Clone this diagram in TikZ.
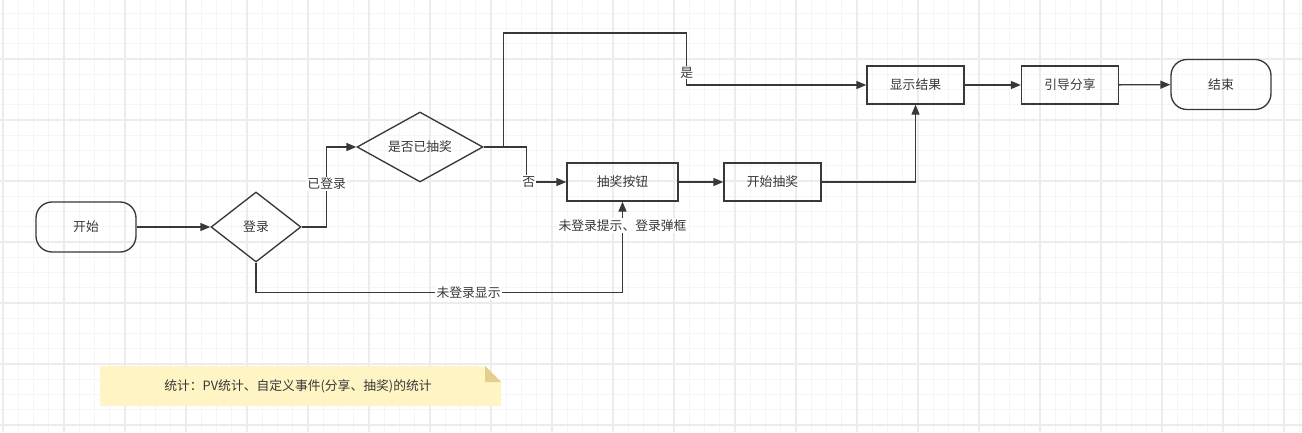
\documentclass[tikz,border=0pt]{standalone}
\usepackage{fontspec}
\setmainfont{Noto Sans CJK SC}
\usetikzlibrary{shapes.geometric,arrows.meta}
\definecolor{linegray}{HTML}{383838}
\definecolor{gridminor}{HTML}{F5F5F5}
\definecolor{gridmajor}{HTML}{ECECEC}
\definecolor{notefill}{HTML}{FFF4C3}
\definecolor{notefold}{HTML}{E3CF8C}

\begin{document}
\begin{tikzpicture}[x=0.75pt,y=-0.75pt,font=\fontsize{9.6}{11.5}\selectfont,text=linegray,
		terminal/.style={draw=linegray,line width=1pt,rounded corners=12pt,minimum width=75pt,minimum height=37.5pt},
		decision/.style={diamond,draw=linegray,line width=1pt,inner sep=0pt,minimum width=#1,minimum height=52.5pt},
		decision/.default=67.5pt,
		box/.style={draw=linegray,line width=1pt,minimum width=#1,minimum height=28.5pt},
		box/.default=72.75pt,
		flow/.style={draw=linegray,line width=1pt,-{Triangle[length=7.5pt,width=6pt]}},
		tag/.style={fill=white,inner sep=1pt}]

	\useasboundingbox (0,0) rectangle (1302,432);
	\fill[white] (0,0) rectangle (1302,432);
	\foreach \gx in {3,18.25,...,1302} \draw[gridminor,line width=0.75pt] (\gx,0) -- (\gx,432);
	\foreach \gy in {13.25,28.5,...,432} \draw[gridminor,line width=0.75pt] (0,\gy) -- (1302,\gy);
	\foreach \gx in {3,64,...,1302} \draw[gridmajor,line width=1pt] (\gx,0) -- (\gx,432);
	\foreach \gy in {59,120,...,432} \draw[gridmajor,line width=1pt] (0,\gy) -- (1302,\gy);

	\node[terminal] (start) at (86,227) {开始};
	\node[decision] (login) at (256,227) {登录};
	\node[decision=94.5pt,shape aspect=1.8] (drawn) at (420,147) {是否已抽奖};
	\node[box=83.25pt] (button) at (622.5,182) {抽奖按钮};
	\node[box] (lottery) at (772.5,182) {开始抽奖};
	\node[box] (result) at (915.5,85) {显示结果};
	\node[box] (share) at (1070,85) {引导分享};
	\node[terminal] (finish) at (1221,84.5) {结束};

	\draw[flow] (start) -- (login);
	\draw[flow] (login.east) -- ++(25,0) |- node[tag,pos=0.27]{已登录} (drawn.west);
	\draw[flow] (login.south) -- ++(0,30) -| node[tag,pos=0.29]{未登录显示} node[tag,pos=0.87]{未登录提示、登录弹框} (button.south);
	\draw[flow] (drawn.east) -- ++(43,0) |- node[tag,pos=0.5,xshift=1.5pt]{否} (button.west);
	\draw[flow] (drawn.east) -- ++(20,0) |- ++(183,-114) |- node[tag,pos=0.38]{是} (result.west);
	\draw[flow] (button) -- (lottery);
	\draw[flow] (lottery.east) -| (result.south);
	\draw[flow] (result) -- (share);
	\draw[flow] (share) -- (finish);

	\fill[notefill] (100,366) -- (485,366) -- (501,382) -- (501,406) -- (100,406) -- cycle;
	\fill[notefold] (485,366) -- (485,382) -- (501,382) -- cycle;
	\node (note) at (298,386) {统计：PV统计、自定义事件(分享、抽奖)的统计};

\end{tikzpicture}
\end{document}
